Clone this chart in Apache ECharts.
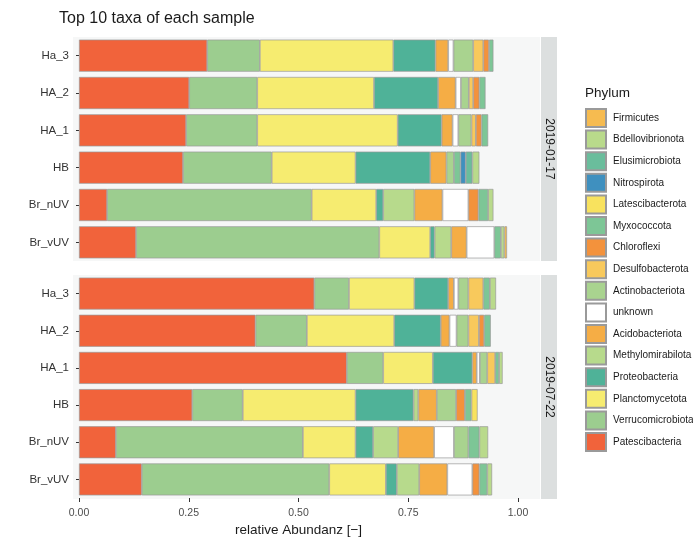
<!DOCTYPE html>
<html>
<head>
<meta charset="utf-8">
<script src="https://cdn.jsdelivr.net/npm/echarts@6/dist/echarts.min.js"></script>
<style>
  html, body { margin: 0; padding: 0; background: #ffffff; }
  #chart { width: 693px; height: 538px; }
</style>
</head>
<body>
<div id="chart"></div>
<script>
// samples, top to bottom in each panel
const samples = ['Ha_3', 'HA_2', 'HA_1', 'HB', 'Br_nUV', 'Br_vUV'];
const dates = ['2019-01-17', '2019-07-22'];
const xTicks = [0, 0.25, 0.5, 0.75, 1];

// relative abundance per phylum, [Ha_3, HA_2, HA_1, HB, Br_nUV, Br_vUV]
const patesJan   = [0.292, 0.251, 0.244, 0.237, 0.064, 0.130];
const verrucoJan = [0.120, 0.155, 0.162, 0.202, 0.466, 0.554];
const planctoJan = [0.304, 0.266, 0.320, 0.191, 0.147, 0.116];
const proteoJan  = [0.096, 0.146, 0.100, 0.170, 0.016, 0.010];
const methyloJan = [0, 0, 0, 0, 0.071, 0.038];
const acidoJan   = [0.029, 0.040, 0.025, 0.037, 0.064, 0.035];
const unknownJan = [0.012, 0.012, 0.013, 0, 0.059, 0.063];
const actinoJan  = [0.045, 0.018, 0.030, 0.017, 0, 0];
const desulfoJan = [0.023, 0.010, 0.010, 0, 0, 0];
const chloroJan  = [0.013, 0.014, 0.013, 0, 0.023, 0];
const myxoJan    = [0.010, 0.014, 0.015, 0.015, 0.022, 0.015];
const latesJan   = [0, 0, 0, 0, 0, 0];
const nitroJan   = [0, 0, 0, 0.012, 0, 0];
const elusiJan   = [0, 0, 0, 0.015, 0, 0];
const bdelloJan  = [0, 0, 0, 0.016, 0.012, 0.008];
const firmiJan   = [0, 0, 0, 0, 0, 0.006];

const patesJul   = [0.536, 0.402, 0.610, 0.258, 0.084, 0.143];
const verrucoJul = [0.079, 0.117, 0.083, 0.115, 0.426, 0.427];
const planctoJul = [0.149, 0.199, 0.113, 0.257, 0.120, 0.129];
const proteoJul  = [0.077, 0.106, 0.090, 0.132, 0.040, 0.025];
const methyloJul = [0, 0, 0, 0.011, 0.057, 0.051];
const acidoJul   = [0.013, 0.020, 0.010, 0.042, 0.082, 0.064];
const unknownJul = [0.010, 0.016, 0.007, 0, 0.045, 0.057];
const actinoJul  = [0.023, 0.027, 0.017, 0.044, 0.033, 0];
const desulfoJul = [0.034, 0.024, 0.018, 0, 0, 0];
const chloroJul  = [0, 0.012, 0, 0.020, 0, 0.016];
const myxoJul    = [0.015, 0.015, 0.009, 0.015, 0.025, 0.018];
const latesJul   = [0, 0, 0, 0.014, 0, 0];
const nitroJul   = [0, 0, 0, 0, 0, 0];
const elusiJul   = [0, 0, 0, 0, 0, 0];
const bdelloJul  = [0.014, 0, 0.008, 0, 0.020, 0.011];
const firmiJul   = [0, 0, 0, 0, 0, 0];

// stacking order, left to right
const phyla = [
  ['Patescibacteria',   '#f1633b', patesJan,   patesJul],
  ['Verrucomicrobiota', '#9ccd8f', verrucoJan, verrucoJul],
  ['Planctomycetota',   '#f6ec70', planctoJan, planctoJul],
  ['Proteobacteria',    '#4fb298', proteoJan,  proteoJul],
  ['Methylomirabilota', '#b7da8c', methyloJan, methyloJul],
  ['Acidobacteriota',   '#f5ad45', acidoJan,   acidoJul],
  ['unknown',           '#ffffff', unknownJan, unknownJul],
  ['Actinobacteriota',  '#a9d38f', actinoJan,  actinoJul],
  ['Desulfobacterota',  '#f8c95c', desulfoJan, desulfoJul],
  ['Chloroflexi',       '#f3923c', chloroJan,  chloroJul],
  ['Myxococcota',       '#7dc696', myxoJan,    myxoJul],
  ['Latescibacterota',  '#f8e25e', latesJan,   latesJul],
  ['Nitrospirota',      '#3f90bf', nitroJan,   nitroJul],
  ['Elusimicrobiota',   '#6abd9c', elusiJan,   elusiJul],
  ['Bdellovibrionota',  '#b9da8b', bdelloJan,  bdelloJul],
  ['Firmicutes',        '#f6bb50', firmiJan,   firmiJul]
];

const font = "'Liberation Sans', Arial, sans-serif";
const panelTop = [37, 275];
const panelH = 224;
const gridLeft = 79, gridW = 439;   // 0..1 on x
const panelX0 = 73, panelX1 = 540;  // grey panel extent
const stripW = 16;

const chart = echarts.init(document.getElementById('chart'));

const series = [];
phyla.forEach(([name, color, jan, jul]) => {
  [jan, jul].forEach((vals, gi) => {
    series.push({
      name,
      type: 'bar',
      stack: 'g' + gi,
      xAxisIndex: gi,
      yAxisIndex: gi,
      barCategoryGap: '14%',
      itemStyle: { color, borderColor: '#9a9a9a', borderWidth: 0.7 },
      emphasis: { disabled: true },
      data: vals.map(v => (v > 0 ? v : null))
    });
  });
});

const graphics = [];
panelTop.forEach((top, i) => {
  graphics.push({
    type: 'rect', z: -10,
    shape: { x: panelX0, y: top, width: panelX1 - panelX0, height: panelH },
    style: { fill: '#f6f7f7' }
  });
  graphics.push({
    type: 'rect', z: -10,
    shape: { x: panelX1 + 1, y: top, width: stripW, height: panelH },
    style: { fill: '#dcdfdf' }
  });
  graphics.push({
    type: 'text',
    x: panelX1 + 1 + stripW / 2, y: top + panelH / 2,
    rotation: -Math.PI / 2,
    style: {
      text: dates[i], fill: '#1a1a1a', font: '12px ' + font,
      textAlign: 'center', textVerticalAlign: 'middle'
    }
  });
});
graphics.push({
  type: 'text', left: 585, top: 86,
  style: { text: 'Phylum', fill: '#1a1a1a', font: '13.5px ' + font }
});

const option = {
  backgroundColor: '#ffffff',
  animation: false,
  title: {
    text: 'Top 10 taxa of each sample',
    left: 54, top: 6,
    textStyle: { fontFamily: font, fontSize: 16, fontWeight: 'normal', color: '#1a1a1a' }
  },
  legend: {
    orient: 'vertical',
    left: 585, top: 108,
    padding: 0,
    icon: 'rect',
    itemWidth: 20, itemHeight: 18, itemGap: 1.6,
    selectedMode: false,
    data: phyla.map(p => p[0]).reverse(),
    textStyle: { fontFamily: font, fontSize: 10, color: '#1a1a1a', padding: [0, 0, 0, 2] }
  },
  grid: panelTop.map(top => ({
    left: gridLeft, top, width: gridW, height: panelH
  })),
  xAxis: [0, 1].map(i => ({
    type: 'value',
    gridIndex: i,
    min: 0, max: 1, interval: 0.25,
    show: i === 1,
    name: i === 1 ? 'relative Abundanz [\u2212]' : '',
    nameLocation: 'middle',
    nameGap: 25,
    nameTextStyle: { fontFamily: font, fontSize: 13.5, color: '#1a1a1a' },
    axisLine: { show: false },
    splitLine: { show: false },
    axisTick: { show: true, length: 4, lineStyle: { color: '#333' } },
    axisLabel: {
      fontFamily: font, fontSize: 10.5, color: '#4d4d4d', margin: 10,
      formatter: v => (xTicks.includes(v) ? v.toFixed(2) : '')
    }
  })),
  yAxis: [0, 1].map(i => ({
    type: 'category',
    gridIndex: i,
    inverse: true,
    data: samples,
    offset: gridLeft - panelX0,
    axisLine: { show: false },
    axisTick: { show: true, length: 3, alignWithLabel: true, lineStyle: { color: '#333' } },
    axisLabel: { fontFamily: font, fontSize: 11.5, color: '#333', margin: 4 }
  })),
  graphic: graphics,
  series
};

chart.setOption(option);
</script>
</body>
</html>
